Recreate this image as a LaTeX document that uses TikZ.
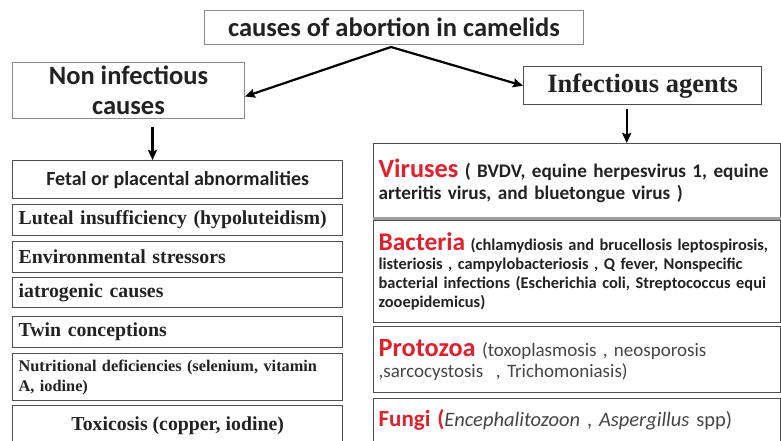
\documentclass[tikz,border=0pt]{standalone}
\usepackage{fontspec}
\setmainfont{Liberation Serif}
\newfontfamily\calibri{Carlito}
\usetikzlibrary{arrows.meta,positioning,calc}
\definecolor{agent}{HTML}{E2202C}
\definecolor{frame}{HTML}{505050}
\definecolor{headframe}{HTML}{8A8A8A}
\definecolor{bodytext}{HTML}{222222}
\definecolor{softtext}{HTML}{454545}

\begin{document}
\begin{tikzpicture}[x=1pt,y=-1pt,
  headbox/.style={draw=headframe,line width=1pt,inner sep=0pt,anchor=north west},
  listbox/.style={draw=frame,line width=1.3pt,inner xsep=6pt,inner ysep=0pt,anchor=north west,minimum width=330pt},
  agentbox/.style={draw=frame,line width=1.3pt,inner xsep=5pt,inner ysep=0pt,anchor=north west,minimum width=407pt,text width=397pt,align=left},
  link/.style={line width=2.2pt,-{Stealth[length=10pt,width=9pt,inset=1.5pt]}}]
  \useasboundingbox (0,0) rectangle (781,441);
  % top of the tree
  \node[headbox,minimum width=379pt,minimum height=34pt,text=bodytext,font=\calibri\bfseries\fontsize{26.5}{28}\selectfont] (title) at (204,10) {causes of abortion in camelids};
  \node[headbox,minimum width=232pt,minimum height=56pt,align=center,text=bodytext,font=\calibri\bfseries\fontsize{26.5}{30}\selectfont] (noninf) at (12,62) {Non infectious\\causes};
  \node[headbox,draw=frame,line width=1.4pt,minimum width=238pt,minimum height=38pt,text=bodytext,font=\bfseries\fontsize{26.5}{28}\selectfont] (infect) at (523,66) {Infectious agents};
  \coordinate (split) at ([xshift=-3pt,yshift=-2pt]title.south);
  \draw[link] (split) -- ([yshift=-6pt]noninf.east);
  \draw[link] (split) -- (infect.west);
  % non infectious list
  \node[listbox,minimum height=38pt,text=bodytext,font=\calibri\bfseries\fontsize{20}{22}\selectfont] (fetal) at (12,160) {Fetal or placental abnormalities};
  \foreach \name/\y/\h/\txt in {luteal/204/31/{Luteal insufficiency (hypoluteidism)}, env/241/31/{Environmental stressors}, iatro/277/30/{iatrogenic causes}, twin/316/31/{Twin conceptions}}
    \node[listbox,minimum height=\h pt,text width=318pt,align=left,text=bodytext,font=\bfseries\fontsize{19.8}{22}\selectfont] (\name) at (12,\y) {\txt};
  \node[listbox,minimum height=47pt,text width=318pt,align=left,text=bodytext,font=\bfseries\fontsize{16.3}{20}\selectfont] (nutr) at (12,353) {Nutritional deficiencies (selenium, vitamin\\A, iodine)};
  \node[listbox,minimum height=40pt,text=bodytext,font=\bfseries\fontsize{19.8}{22}\selectfont] (toxic) at (12,405) {Toxicosis (copper, iodine)};
  \draw[link] ([xshift=24pt,yshift=-8pt]noninf.south) -- ([xshift=24pt]noninf.south |- fetal.north);
  % infectious agents
  \node[agentbox,minimum height=75pt,text=bodytext,font=\calibri\bfseries\fontsize{19.2}{22}\selectfont] (viruses) at (373,143) {{\color{agent}\fontsize{26.3}{22}\selectfont Viruses} ( BVDV, equine herpesvirus 1, equine\\arteritis virus, and bluetongue virus )};
  \draw[gray!75,line width=3pt] ([yshift=1pt]viruses.south west) -- ([yshift=1pt]viruses.south east);
  \node[agentbox,minimum height=102pt,text=bodytext,font=\calibri\bfseries\fontsize{16.4}{19}\selectfont] (bacteria) at (373,220) {{\color{agent}\fontsize{25.4}{19}\selectfont Bacteria} (chlamydiosis and brucellosis leptospirosis,\\listeriosis , campylobacteriosis , Q fever, Nonspecific\\bacterial infections (Escherichia coli, Streptococcus equi\\zooepidemicus)};
  \node[agentbox,minimum height=66pt,text=softtext,font=\calibri\fontsize{19}{21}\selectfont] (protozoa) at (373,326) {{\color{agent}\bfseries\fontsize{26.3}{21}\selectfont Protozoa} (toxoplasmosis , neosporosis\\,sarcocystosis~ , Trichomoniasis)};
  \node[agentbox,minimum height=43pt,text=softtext,font=\calibri\fontsize{20.5}{22}\selectfont] (fungi) at (373,398) {{\color{agent}\bfseries\fontsize{23}{22}\selectfont Fungi (}\textit{Encephalitozoon} , \textit{Aspergillus} spp)};
  \draw[link] ([xshift=-16pt,yshift=-4pt]infect.south) -- ([xshift=-16pt]infect.south |- viruses.north);
\end{tikzpicture}
\end{document}
